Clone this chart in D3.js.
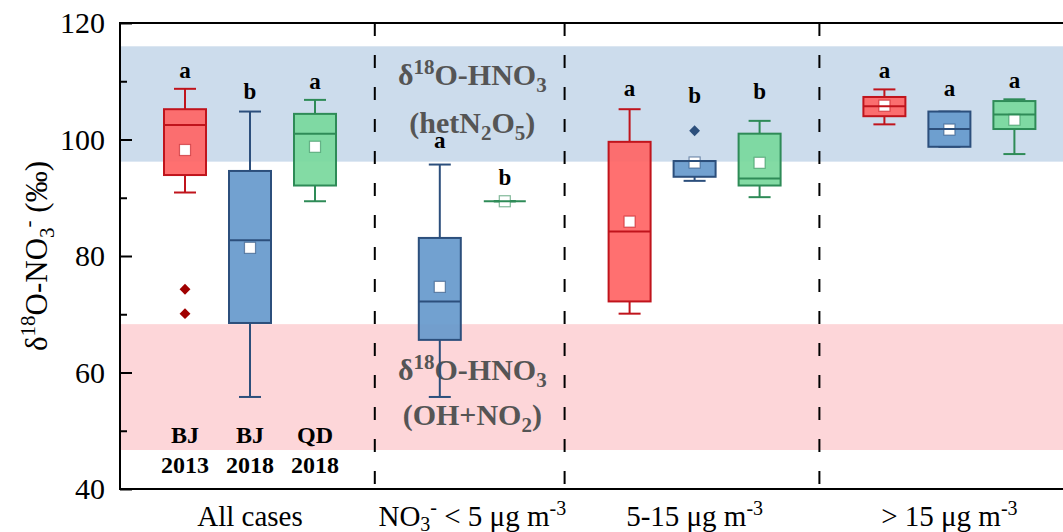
<!DOCTYPE html>
<html>
<head>
<meta charset="utf-8">
<script src="https://cdn.jsdelivr.net/npm/d3@7"></script>
<style>
  body { margin: 0; background: #fff; }
  svg { display: block; font-family: "Liberation Serif", "Times New Roman", serif; }
</style>
</head>
<body>
<svg id="chart" width="1063" height="532"></svg>
<script>
// NO3- concentration regimes (x groups) and the site cases drawn in each
const groupNames = ["All cases", "NO3- < 5", "5-15", "> 15"];
const caseNames = ["BJ 2013", "BJ 2018", "QD 2018"];

// one entry per box, in drawing order
const boxGroup = [0, 0, 0, 1, 1, 2, 2, 2, 3, 3, 3];
const boxCase  = [0, 1, 2, 1, 2, 0, 1, 2, 0, 1, 2];
const whiskerLow  = [90.9, 55.8, 89.4, 55.8, 89.4, 70.1, 92.9, 90.1, 102.6, 98.75, 97.5];
const q1          = [93.9, 68.5, 92.1, 65.6, 89.4, 72.2, 93.6, 92.1, 104.0, 98.75, 101.8];
const median      = [102.5, 82.7, 101.0, 72.2, 89.4, 84.2, 96.3, 93.3, 105.7, 101.8, 104.3];
const q3          = [105.2, 94.6, 104.4, 83.1, 89.4, 99.6, 96.3, 101.0, 107.3, 104.8, 106.6];
const whiskerHigh = [108.7, 104.8, 106.8, 95.7, 89.4, 105.2, 96.3, 103.2, 108.6, 104.8, 106.9];
const mean        = [98.2, 81.4, 98.75, 74.7, 89.4, 85.9, 96.05, 96.0, 105.8, 101.7, 103.4];
const outliers    = [[74.3, 70.1], [], [], [], [], [], [101.5], [], [], [], []];

// significance letters and the value level of their baselines
const sigLetters = ["a", "b", "a", "a", "b", "a", "b", "b", "a", "a", "a"];
const sigLevel   = [110.6, 107.0, 108.7, 98.5, 92.2, 107.5, 106.3, 106.9, 110.6, 107.5, 108.9];

// shaded source ranges of δ18O-HNO3
const hetN2O5Range = [96.2, 116];
const ohNo2Range   = [46.7, 68.3];

const yTicksMajor = [40, 60, 80, 100, 120];
const yTicksMinor = [50, 70, 90, 110];

// styling per case
const fillColor    = ["#ff6464", "#6699cc", "#78d89c"];
const strokeColor  = ["#c0141c", "#2c4f7c", "#2e8b57"];
const outlierColor = ["#a00000", "#2c4f7c", "#2e8b57"];

const svg = d3.select("#chart");
const plotLeft = 120, plotTop = 23, plotBottom = 489;

// x is laid out in "slots": one slot per box, plus a gap before each group
const groupGap = 0.92;
const slotPos = [];
const groupStart = [];
let cursor = 0;
groupNames.forEach((g, gi) => {
  groupStart.push(cursor);
  const members = boxGroup.map((bg, i) => bg === gi ? i : -1).filter(i => i >= 0);
  members.forEach((i, k) => { slotPos[i] = cursor + 1 + k; });
  cursor += members.length + groupGap;
});
const slotEnd = cursor;

const x = d3.scaleLinear().domain([0, slotEnd]).range([plotLeft, plotLeft + 65 * slotEnd]);
const y = d3.scaleLinear().domain([40, 120]).range([plotBottom, plotTop]);
const plotRight = x(slotEnd);
const boxW = 42, capW = 22;

// background bands
svg.append("rect")
  .attr("x", plotLeft).attr("width", plotRight - plotLeft)
  .attr("y", y(hetN2O5Range[1])).attr("height", y(hetN2O5Range[0]) - y(hetN2O5Range[1]))
  .attr("fill", "#ccdcec");
svg.append("rect")
  .attr("x", plotLeft).attr("width", plotRight - plotLeft)
  .attr("y", y(ohNo2Range[1])).attr("height", y(ohNo2Range[0]) - y(ohNo2Range[1]))
  .attr("fill", "#fdd6d9");

// group separators
svg.selectAll("line.sep").data(groupStart.slice(1)).join("line")
  .attr("class", "sep")
  .attr("x1", d => x(d)).attr("x2", d => x(d))
  .attr("y1", plotTop).attr("y2", plotBottom)
  .attr("stroke", "#000").attr("stroke-width", 2)
  .attr("stroke-dasharray", "13,19");

// text with chemical sub/superscripts
function chemLabel(sel, parts, small) {
  parts.forEach(p => {
    const t = sel.append("tspan").text(p.t);
    if (p.s) t.attr("font-size", small);
    if (p.dy) t.attr("dy", p.dy);
  });
}

// band annotations
const g2Mid = (slotPos[3] + slotPos[4]) / 2;
const bandLabel = (v, parts) => {
  const t = svg.append("text")
    .attr("x", x(g2Mid)).attr("y", y(v))
    .attr("text-anchor", "middle")
    .attr("font-size", 30).attr("font-weight", "bold").attr("fill", "#555");
  chemLabel(t, parts, 21);
};
bandLabel(109.4, [{t: "δ"}, {t: "18", s: 1, dy: -11}, {t: "O-HNO", dy: 11}, {t: "3", s: 1, dy: 7}]);
bandLabel(101.1, [{t: "(hetN"}, {t: "2", s: 1, dy: 7}, {t: "O", dy: -7}, {t: "5", s: 1, dy: 7}, {t: ")", dy: -7}]);
bandLabel(58.7,  [{t: "δ"}, {t: "18", s: 1, dy: -11}, {t: "O-HNO", dy: 11}, {t: "3", s: 1, dy: 7}]);
bandLabel(51.0,  [{t: "(OH+NO"}, {t: "2", s: 1, dy: 7}, {t: ")", dy: -7}]);

// boxes
const boxes = svg.append("g");
boxGroup.forEach((_, i) => {
  const c = boxCase[i];
  const cx = x(slotPos[i]);
  const g = boxes.append("g");
  const stroke = strokeColor[c];
  // whiskers
  g.append("line").attr("x1", cx).attr("x2", cx)
    .attr("y1", y(whiskerHigh[i])).attr("y2", y(q3[i]))
    .attr("stroke", stroke).attr("stroke-width", 2);
  g.append("line").attr("x1", cx).attr("x2", cx)
    .attr("y1", y(q1[i])).attr("y2", y(whiskerLow[i]))
    .attr("stroke", stroke).attr("stroke-width", 2);
  [whiskerHigh[i], whiskerLow[i]].forEach(v => {
    g.append("line").attr("x1", cx - capW / 2).attr("x2", cx + capW / 2)
      .attr("y1", y(v)).attr("y2", y(v))
      .attr("stroke", stroke).attr("stroke-width", 2);
  });
  // box
  g.append("rect")
    .attr("x", cx - boxW / 2).attr("width", boxW)
    .attr("y", y(q3[i])).attr("height", Math.max(0, y(q1[i]) - y(q3[i])))
    .attr("fill", fillColor[c]).attr("fill-opacity", 0.92)
    .attr("stroke", stroke).attr("stroke-width", 2);
  // mean
  g.append("rect")
    .attr("x", cx - 5.5).attr("y", y(mean[i]) - 5.5)
    .attr("width", 11).attr("height", 11)
    .attr("fill", "#fff").attr("stroke", stroke).attr("stroke-opacity", 0.6).attr("stroke-width", 1.2);
  // median
  g.append("line").attr("x1", cx - boxW / 2).attr("x2", cx + boxW / 2)
    .attr("y1", y(median[i])).attr("y2", y(median[i]))
    .attr("stroke", stroke).attr("stroke-width", 2);
  // outliers
  g.selectAll("path.out").data(outliers[i]).join("path")
    .attr("class", "out")
    .attr("transform", v => `translate(${cx},${y(v)})`)
    .attr("d", d3.symbol(d3.symbolDiamond2, 75))
    .attr("fill", outlierColor[c]);
  // letter
  svg.append("text")
    .attr("x", cx).attr("y", y(sigLevel[i]))
    .attr("text-anchor", "middle")
    .attr("font-size", 23).attr("font-weight", "bold").attr("fill", "#000")
    .text(sigLetters[i]);
});

// case names under the first group
boxGroup.forEach((gi, i) => {
  if (gi !== 0) return;
  const [site, year] = caseNames[boxCase[i]].split(" ");
  const t = svg.append("text")
    .attr("text-anchor", "middle").attr("font-size", 24).attr("font-weight", "bold");
  t.append("tspan").attr("x", x(slotPos[i])).attr("y", y(47.9)).text(site);
  t.append("tspan").attr("x", x(slotPos[i])).attr("y", y(42.7)).text(year);
});

// frame
svg.append("rect")
  .attr("x", plotLeft).attr("y", plotTop)
  .attr("width", plotRight - plotLeft).attr("height", plotBottom - plotTop)
  .attr("fill", "none").attr("stroke", "#000").attr("stroke-width", 2);

// y axis, ticks pointing inward
const yAxis = svg.append("g").attr("transform", `translate(${plotLeft},0)`)
  .call(d3.axisLeft(y).tickValues(yTicksMajor).tickSizeInner(-12).tickSizeOuter(0).tickPadding(15));
yAxis.select(".domain").remove();
yAxis.selectAll(".tick line").attr("stroke-width", 2);
yAxis.selectAll(".tick text").attr("font-size", 30).attr("font-family", "Liberation Serif").attr("fill", "#000");
const yMinor = svg.append("g").attr("transform", `translate(${plotLeft},0)`)
  .call(d3.axisLeft(y).tickValues(yTicksMinor).tickSizeInner(-7).tickSizeOuter(0).tickFormat(""));
yMinor.select(".domain").remove();
yMinor.selectAll(".tick line").attr("stroke-width", 2);

// y title
const yTitle = svg.append("text")
  .attr("transform", `translate(47,${(plotTop + plotBottom) / 2}) rotate(-90)`)
  .attr("text-anchor", "middle").attr("font-size", 31);
chemLabel(yTitle, [{t: "δ"}, {t: "18", s: 1, dy: -12}, {t: "O-NO", dy: 12}, {t: "3", s: 1, dy: 7},
  {t: "-", s: 1, dy: -19}, {t: " (‰)", dy: 12}], 21);

// x group labels
const groupMid = groupNames.map((g, gi) => {
  const pos = boxGroup.map((bg, i) => bg === gi ? slotPos[i] : null).filter(v => v !== null);
  return d3.mean(pos);
});
const xl = (gi, parts) => {
  const t = svg.append("text")
    .attr("x", x(groupMid[gi])).attr("y", 526)
    .attr("text-anchor", "middle").attr("font-size", 29);
  chemLabel(t, parts, 20);
};
xl(0, [{t: "All cases"}]);
xl(1, [{t: "NO"}, {t: "3", s: 1, dy: 5}, {t: "-", s: 1, dy: -17}, {t: " < 5 μg m", dy: 12}, {t: "-3", s: 1, dy: -11}]);
xl(2, [{t: "5-15 μg m"}, {t: "-3", s: 1, dy: -11}]);
xl(3, [{t: "> 15 μg m"}, {t: "-3", s: 1, dy: -11}]);
</script>
</body>
</html>
